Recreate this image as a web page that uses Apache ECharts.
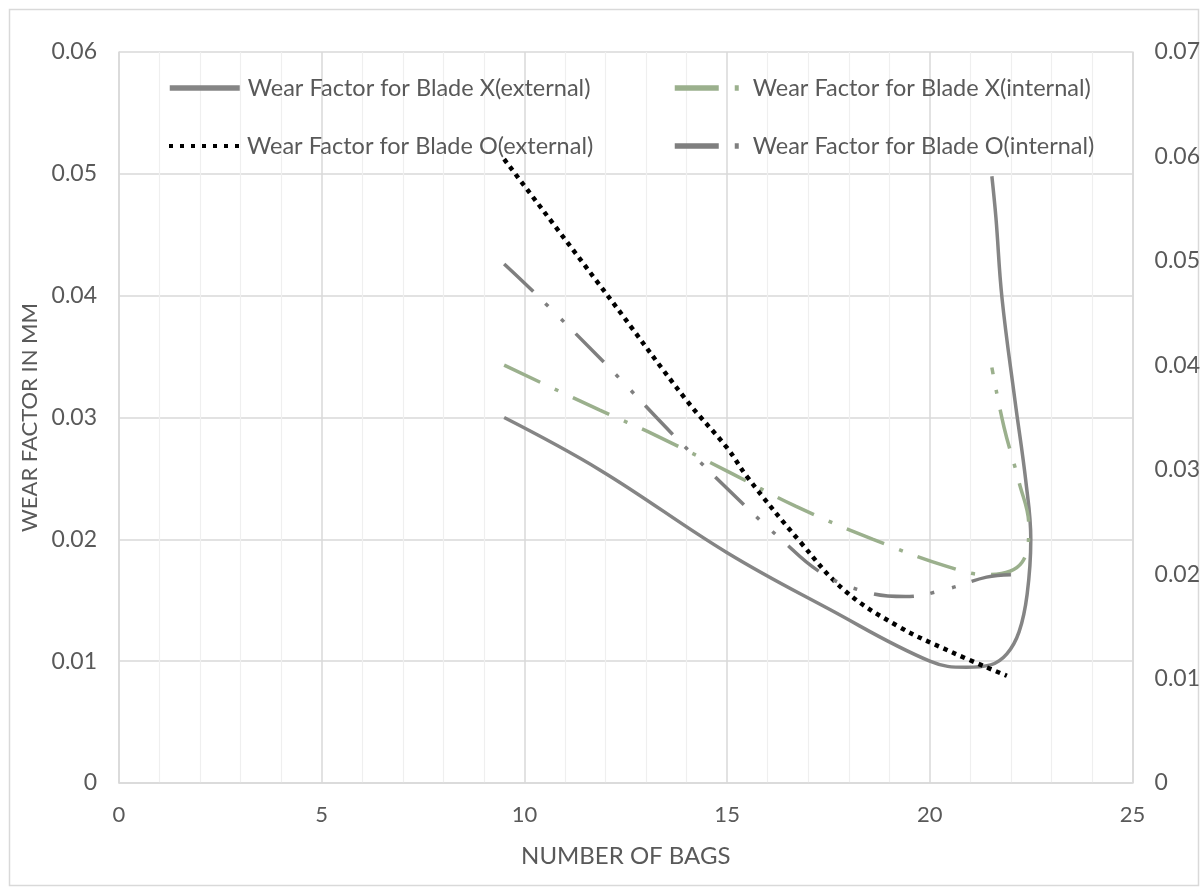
<!DOCTYPE html>
<html>
<head>
<meta charset="utf-8">
<script src="https://cdn.jsdelivr.net/npm/echarts@6/dist/echarts.min.js"></script>
<style>
html,body{margin:0;padding:0;background:#fff;}
#chart{width:1203px;height:890px;}
</style>
</head>
<body>
<div id="chart"></div>
<script>
// Series names
const seriesNames = [
  'Wear Factor for Blade X(external)',
  'Wear Factor for Blade X(internal)',
  'Wear Factor for Blade O(external)',
  'Wear Factor for Blade O(internal)'
];
// [number of bags, wear factor]
const bladeXExternal = [
  [9.5,0.0300],[11.86,0.0257],[15.0,0.0189],[17.5,0.0143],[20.0,0.0100],
  [20.9,0.0095],[21.5,0.0097],[21.9,0.0106],[22.2,0.0124],[22.4,0.0155],
  [22.49,0.0200],[22.37,0.0247],[22.1,0.0314],[21.78,0.0398],[21.63,0.0464],
  [21.53,0.0498]
];
const bladeXInternal = [
  [9.5,0.0343],[11.86,0.0306],[13.2,0.0286],[15.0,0.0256],[16.7,0.0227],
  [18.6,0.0200],[20.4,0.0178],[21.4,0.0171],[22.27,0.0181],[22.44,0.0211],
  [22.2,0.0247],[21.83,0.0292],[21.53,0.0341]
];
const bladeOExternal = [
  [9.5,0.0512],[12.1,0.0398],[14.0,0.0314],[15.0,0.0275],[15.5,0.0251],
  [16.8,0.0198],[17.9,0.0158],[19.2,0.0129],[20.5,0.0108],[21.9,0.0088]
];
const bladeOInternal = [
  [9.5,0.0426],[10.26,0.0402],[12.03,0.0343],[13.75,0.0283],[15.55,0.0224],
  [16.3,0.0201],[17.3,0.0173],[18.4,0.0157],[19.4,0.0153],[20.4,0.0159],
  [21.4,0.0169],[22.0,0.0171]
];
// Axis ranges / ticks
const xTicks = [0, 25, 5];         // min, max, interval
const yLeftTicks = [0, 0.06, 0.01];
const yRightTicks = [0, 0.07, 0.01];
const xAxisTitle = 'NUMBER OF BAGS';
const yAxisTitle = 'WEAR FACTOR IN MM';

const FONT = 'Lato, "Open Sans", sans-serif';
const TXT = '#595959';

const chart = echarts.init(document.getElementById('chart'), null, {renderer:'canvas'});

const styles = [
  {color:'#858585', width:3.5, type:'solid'},
  {color:'#9bb08d', width:3.5, type:[40,16,4,16]},
  {color:'#000000', width:4.5, type:[4.5,5]},
  {color:'#7f7f7f', width:3.5, type:[40,17,4,18,4,17]}
];
const legendLine = [
  {width:5.5, type:'solid'},
  {width:5.5, type:[44,16,4,16]},
  {width:4, type:[4,7]},
  {width:5.5, type:[44,16,4,16]}
];
const datasets = [bladeXExternal, bladeXInternal, bladeOExternal, bladeOInternal];

const legendPos = [
  {left:167, top:74},
  {left:672, top:74},
  {left:167, top:132},
  {left:672, top:132}
];

const option = {
  backgroundColor:'#fff',
  animation:false,
  graphic:[{
    type:'rect', left:7, top:7, shape:{width:1189, height:876},
    style:{fill:'none', stroke:'#d9d9d9', lineWidth:1.5}, silent:true, z:-1
  }],
  legend: seriesNames.map((n,i)=>({
    left:legendPos[i].left, top:legendPos[i].top, padding:0,
    data:[{name:n, lineStyle:{width:legendLine[i].width, type:legendLine[i].type, color:styles[i].color, cap:'butt'}}],
    itemWidth:70, itemHeight:14, itemGap:0,
    itemStyle:{opacity:0},
    textStyle:{color:TXT, fontSize:23.5, fontFamily:FONT, lineHeight:28, padding:[0,0,0,3]},
    selectedMode:false
  })),
  grid:{left:119, right:67, top:52, bottom:107, containLabel:false},
  xAxis:{
    type:'value', min:xTicks[0], max:xTicks[1], interval:xTicks[2],
    name:xAxisTitle, nameLocation:'middle', nameGap:61,
    nameTextStyle:{color:TXT, fontSize:24, fontFamily:FONT},
    axisLine:{show:true, lineStyle:{color:'#d9d9d9', width:1.5}},
    axisTick:{show:false},
    axisLabel:{color:TXT, fontSize:22, fontFamily:FONT, margin:21},
    splitLine:{show:true, lineStyle:{color:'#d9d9d9', width:1.5}},
    minorTick:{show:false, splitNumber:5},
    minorSplitLine:{show:true, lineStyle:{color:'#efefef', width:1.2}}
  },
  yAxis:[{
    type:'value', min:yLeftTicks[0], max:yLeftTicks[1], interval:yLeftTicks[2],
    position:'left',
    name:yAxisTitle, nameLocation:'middle', nameGap:68,
    nameTextStyle:{color:TXT, fontSize:22, fontFamily:FONT},
    axisLine:{show:true, lineStyle:{color:'#d9d9d9', width:1.5}},
    axisTick:{show:false},
    axisLabel:{color:TXT, fontSize:23, fontFamily:FONT, margin:22},
    splitLine:{show:true, lineStyle:{color:'#d9d9d9', width:1.5}}
  },{
    type:'value', min:yRightTicks[0], max:yRightTicks[1], interval:yRightTicks[2],
    position:'right',
    axisLine:{show:true, lineStyle:{color:'#d9d9d9', width:1.5}},
    axisTick:{show:false},
    axisLabel:{color:TXT, fontSize:23, fontFamily:FONT, margin:22},
    splitLine:{show:false}
  }],
  series: seriesNames.map((n,i)=>({
    name:n, type:'line', data:datasets[i], yAxisIndex:0,
    smooth:0.4, showSymbol:false, symbol:'none', clip:false,
    lineStyle:{color:styles[i].color, width:styles[i].width, type:styles[i].type, cap:'butt'},
    itemStyle:{color:styles[i].color},
    emphasis:{disabled:true}, z:2+i
  }))
};
chart.setOption(option);
</script>
</body>
</html>
